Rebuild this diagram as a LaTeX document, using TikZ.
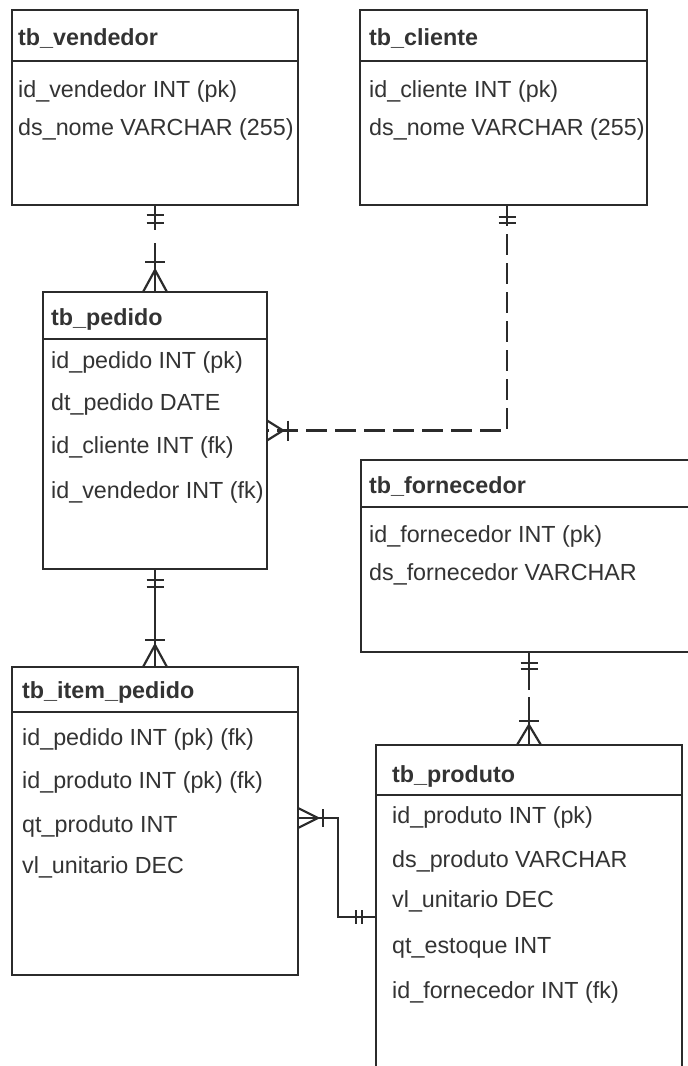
\documentclass[tikz,border=0pt]{standalone}
\usepackage{fontspec}
\setmainfont{Liberation Sans}
\usetikzlibrary{calc}
\definecolor{ln}{HTML}{2B2B2B}
\definecolor{tx}{HTML}{333333}
\begin{document}
\begin{tikzpicture}[x=1pt,y=-1pt,
 tbl/.style={draw=ln,line width=2.6pt,rectangle,anchor=north west,inner sep=0pt,outer sep=0pt},
 hline/.style={draw=ln,line width=2.6pt},
 hd/.style={anchor=base west,inner sep=0pt,font=\fontsize{23.3}{28}\selectfont\bfseries,text=tx},
 fld/.style={anchor=base west,inner sep=0pt,font=\fontsize{23.3}{28}\selectfont,text=tx},
 conn/.style={draw=ln,line width=2.4pt},
 mk/.style={draw=ln,line width=2.2pt}]
\useasboundingbox (0,0) rectangle (688,1066);
\fill[white] (0,0) rectangle (688,1066);
\clip (0,0) rectangle (688,1066);

% tables
\node[tbl,minimum width=286pt,minimum height=195pt] (ven) at (12,10) {};
\node[tbl,minimum width=287pt,minimum height=195pt] (cli) at (360,10) {};
\node[tbl,minimum width=224pt,minimum height=277pt] (ped) at (43,292) {};
\node[tbl,minimum width=337pt,minimum height=192pt] (forn) at (361,460) {};
\node[tbl,minimum width=286pt,minimum height=308pt] (item) at (12,667) {};
\node[tbl,minimum width=306pt,minimum height=340pt] (prod) at (376,745) {};

% header separators
\draw[hline] ($(ven.north west)+(0,51)$) -- ($(ven.north east)+(0,51)$);
\draw[hline] ($(cli.north west)+(0,51)$) -- ($(cli.north east)+(0,51)$);
\draw[hline] ($(ped.north west)+(0,47)$) -- ($(ped.north east)+(0,47)$);
\draw[hline] ($(forn.north west)+(0,47)$) -- ($(forn.north east)+(0,47)$);
\draw[hline] ($(item.north west)+(0,45)$) -- ($(item.north east)+(0,45)$);
\draw[hline] ($(prod.north west)+(0,50)$) -- ($(prod.north east)+(0,50)$);

% texts
\node[hd] (venh) at (18,45) {tb\_vendedor};
\node[fld] (ven1) at (18,97) {id\_vendedor INT (pk)};
\node[fld] (ven2) at (18,135) {ds\_nome VARCHAR (255)};

\node[hd] (clih) at (369,45) {tb\_cliente};
\node[fld] (cli1) at (369,97) {id\_cliente INT (pk)};
\node[fld] (cli2) at (369,135) {ds\_nome VARCHAR (255)};

\node[hd] (pedh) at (51,325) {tb\_pedido};
\node[fld] (ped1) at (51,368) {id\_pedido INT (pk)};
\node[fld] (ped2) at (51,410) {dt\_pedido DATE};
\node[fld] (ped3) at (51,453) {id\_cliente INT (fk)};
\node[fld] (ped4) at (51,498) {id\_vendedor INT (fk)};

\node[hd] (fornh) at (369,493) {tb\_fornecedor};
\node[fld] (forn1) at (369,542) {id\_fornecedor INT (pk)};
\node[fld] (forn2) at (369,580) {ds\_fornecedor VARCHAR};

\node[hd] (itemh) at (22,698) {tb\_item\_pedido};
\node[fld] (item1) at (22,745) {id\_pedido INT (pk) (fk)};
\node[fld] (item2) at (22,788) {id\_produto INT (pk) (fk)};
\node[fld] (item3) at (22,832) {qt\_produto INT};
\node[fld] (item4) at (22,873) {vl\_unitario DEC};

\node[hd] (prodh) at (392,782) {tb\_produto};
\node[fld] (prod1) at (392,823) {id\_produto INT (pk)};
\node[fld] (prod2) at (392,867) {ds\_produto VARCHAR};
\node[fld] (prod3) at (392,907) {vl\_unitario DEC};
\node[fld] (prod4) at (392,953) {qt\_estoque INT};
\node[fld] (prod5) at (392,998) {id\_fornecedor INT (fk)};

% connector endpoints
\coordinate (cB) at ($(cli.south west)+(147,0)$);
\coordinate (fB) at (prod.north |- forn.south);
\coordinate (iA) at ($(item.north east)+(0,151)$);
\coordinate (pA) at ($(prod.north west)+(0,172)$);

% vendedor -> pedido (dashed)
\draw[conn,dash pattern=on 25pt off 13pt on 200pt] (ven.south) -- (ped.north);
\draw[mk] ($(ven.south)+(-8.5,10)$) -- ++(17,0);
\draw[mk] ($(ven.south)+(-8.5,18)$) -- ++(17,0);
\draw[mk] ($(ped.north)+(-10,-30)$) -- ++(20,0);
\draw[mk] ($(ped.north)+(-12,0)$) -- ($(ped.north)+(0,-22)$) -- ($(ped.north)+(12,0)$);

% cliente -> pedido (dashed)
\draw[conn,dash pattern=on 21pt off 8pt] (cB) |- (ped.east);
\draw[mk] ($(cB)+(-8.5,12)$) -- ++(17,0);
\draw[mk] ($(cB)+(-8.5,18)$) -- ++(17,0);
\draw[mk] ($(ped.east)+(0,-10)$) -- ($(ped.east)+(16,0)$) -- ($(ped.east)+(0,10)$);
\draw[mk] ($(ped.east)+(21,-10)$) -- ++(0,20);

% pedido -> item_pedido (solid)
\draw[conn] (ped.south) -- (item.north);
\draw[mk] ($(ped.south)+(-8.5,11)$) -- ++(17,0);
\draw[mk] ($(ped.south)+(-8.5,18)$) -- ++(17,0);
\draw[mk] ($(item.north)+(-10,-27)$) -- ++(20,0);
\draw[mk] ($(item.north)+(-12,0)$) -- ($(item.north)+(0,-22)$) -- ($(item.north)+(12,0)$);

% fornecedor -> produto (dashed)
\draw[conn,dash pattern=on 38pt off 7pt on 200pt] (fB) -- (prod.north);
\draw[mk] ($(fB)+(-8.5,11)$) -- ++(17,0);
\draw[mk] ($(fB)+(-8.5,17)$) -- ++(17,0);
\draw[mk] ($(prod.north)+(-10,-24)$) -- ++(20,0);
\draw[mk] ($(prod.north)+(-12,0)$) -- ($(prod.north)+(0,-20)$) -- ($(prod.north)+(12,0)$);

% item_pedido -> produto (solid)
\draw[conn] (iA) -- ++(40,0) |- (pA);
\draw[mk] ($(iA)+(0,-10)$) -- ($(iA)+(20,0)$) -- ($(iA)+(0,10)$);
\draw[mk] ($(iA)+(25,-9)$) -- ++(0,18);
\draw[mk] ($(pA)+(-20,-7)$) -- ++(0,14);
\draw[mk] ($(pA)+(-14,-7)$) -- ++(0,14);
\end{tikzpicture}
\end{document}
